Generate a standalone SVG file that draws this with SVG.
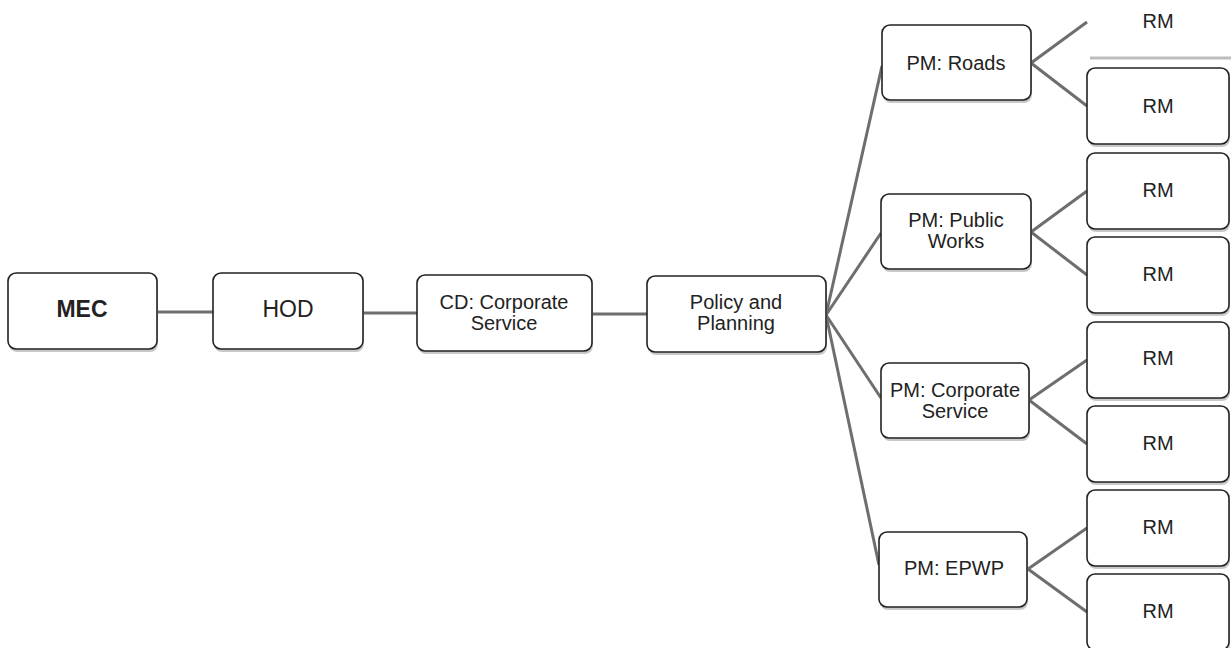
<svg xmlns="http://www.w3.org/2000/svg" width="1231" height="648" viewBox="0 0 1231 648">
<style>
.box{fill:#fff;stroke:#222;stroke-width:1.6}
.sh{fill:#c8c8c8}
.t{font-family:"Liberation Sans",Arial,sans-serif;font-size:20px;fill:#222;text-anchor:middle}
.l{font-size:23px}
.b{font-weight:bold}
.c{stroke:#6e6e6e;stroke-width:3;fill:none}
</style>
<defs>
<g id="rm"><rect class="sh" x="1" y="3" width="142" height="76" rx="8"/><rect class="box" x="0" y="0" width="142" height="76" rx="8"/></g>
</defs>
<rect width="1231" height="648" fill="#fff"/>
<g id="connectors">
<line class="c" x1="157" y1="312" x2="213" y2="312"/>
<line class="c" x1="363" y1="313" x2="417" y2="313"/>
<line class="c" x1="592" y1="314" x2="647" y2="314"/>
<line class="c" x1="826" y1="315" x2="882" y2="66"/>
<line class="c" x1="826" y1="315" x2="881" y2="233"/>
<line class="c" x1="826" y1="315" x2="881" y2="398"/>
<line class="c" x1="826" y1="315" x2="879" y2="565"/>
<line class="c" x1="1031" y1="63" x2="1087" y2="22"/>
<line class="c" x1="1031" y1="63" x2="1087" y2="106"/>
<line class="c" x1="1031" y1="232" x2="1087" y2="191"/>
<line class="c" x1="1031" y1="232" x2="1087" y2="275"/>
<line class="c" x1="1029" y1="400" x2="1087" y2="360"/>
<line class="c" x1="1029" y1="400" x2="1087" y2="444"/>
<line class="c" x1="1028" y1="569" x2="1087" y2="528"/>
<line class="c" x1="1028" y1="569" x2="1087" y2="612"/>
</g>
<g id="mec"><rect class="sh" x="9" y="276" width="149" height="76" rx="8"/><rect class="box" x="8" y="273" width="149" height="76" rx="8"/><text class="t l b" x="82" y="317">MEC</text></g>
<g id="hod"><rect class="sh" x="214" y="276" width="150" height="76" rx="8"/><rect class="box" x="213" y="273" width="150" height="76" rx="8"/><text class="t l" x="288" y="317">HOD</text></g>
<g id="cd"><rect class="sh" x="418" y="278" width="175" height="76" rx="8"/><rect class="box" x="417" y="275" width="175" height="76" rx="8"/><text class="t" x="504" y="309">CD: Corporate</text><text class="t" x="504" y="330">Service</text></g>
<g id="policy"><rect class="sh" x="648" y="279" width="179" height="76" rx="8"/><rect class="box" x="647" y="276" width="179" height="76" rx="8"/><text class="t" x="736" y="309">Policy and</text><text class="t" x="736" y="330">Planning</text></g>
<g id="pm-roads"><rect class="sh" x="883" y="28" width="149" height="75" rx="8"/><rect class="box" x="882" y="25" width="149" height="75" rx="8"/><text class="t" x="956" y="70">PM: Roads</text></g>
<g id="pm-public"><rect class="sh" x="882" y="197" width="150" height="75" rx="8"/><rect class="box" x="881" y="194" width="150" height="75" rx="8"/><text class="t" x="956" y="227">PM: Public</text><text class="t" x="956" y="248">Works</text></g>
<g id="pm-corp"><rect class="sh" x="882" y="366" width="148" height="75" rx="8"/><rect class="box" x="881" y="363" width="148" height="75" rx="8"/><text class="t" x="955" y="397">PM: Corporate</text><text class="t" x="955" y="418">Service</text></g>
<g id="pm-epwp"><rect class="sh" x="880" y="535" width="148" height="75" rx="8"/><rect class="box" x="879" y="532" width="148" height="75" rx="8"/><text class="t" x="954" y="575">PM: EPWP</text></g>
<g id="rm1"><line x1="1090" y1="58" x2="1231" y2="58" stroke="#bdbdbd" stroke-width="3"/><text class="t" x="1158" y="28">RM</text></g>
<g id="rm2"><use href="#rm" x="1087" y="68"/><text class="t" x="1158" y="113">RM</text></g>
<g id="rm3"><use href="#rm" x="1087" y="153"/><text class="t" x="1158" y="197">RM</text></g>
<g id="rm4"><use href="#rm" x="1087" y="237"/><text class="t" x="1158" y="281">RM</text></g>
<g id="rm5"><use href="#rm" x="1087" y="322"/><text class="t" x="1158" y="365">RM</text></g>
<g id="rm6"><use href="#rm" x="1087" y="406"/><text class="t" x="1158" y="450">RM</text></g>
<g id="rm7"><use href="#rm" x="1087" y="490"/><text class="t" x="1158" y="534">RM</text></g>
<g id="rm8"><use href="#rm" x="1087" y="574"/><text class="t" x="1158" y="618">RM</text></g>
</svg>
